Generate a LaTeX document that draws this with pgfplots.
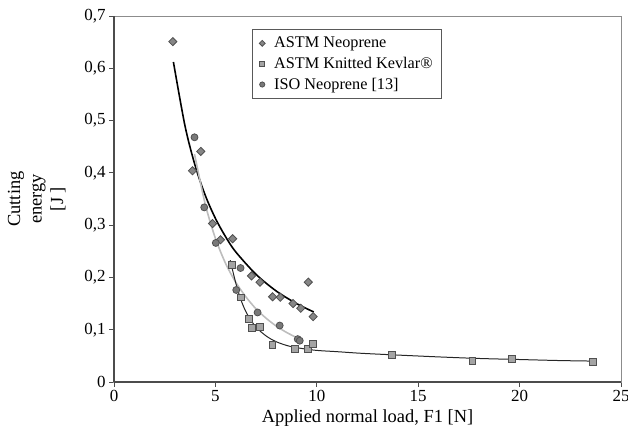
\documentclass[border=0pt]{standalone}
\usepackage{fontspec}
\setmainfont{Liberation Serif}
\usepackage{pgfplots}
\pgfplotsset{compat=1.18}
\definecolor{mkfill}{HTML}{868686}
\definecolor{mkdraw}{HTML}{505050}
\definecolor{isoline}{HTML}{BDBDBD}
\newcommand{\tickfont}{\fontsize{17}{19}\selectfont}
\newcommand{\labfont}{\fontsize{18.5}{19.5}\selectfont}
\newcommand{\ylabfont}{\fontsize{18.5}{21.5}\selectfont}
\newcommand{\legfont}{\fontsize{16.3}{18}\selectfont}

\begin{document}
\begin{tikzpicture}
\begin{axis}[
  name=ax, at={(0,0)}, anchor=south west,
  scale only axis, width=507bp, height=366bp,
  xmin=0, xmax=25, ymin=0, ymax=0.7,
  xtick={0,5,...,25}, ytick={0,0.1,...,0.7},
  /pgf/number format/use comma,
  /pgf/number format/assume math mode=true,
  tick label style={font=\tickfont},
  xtick pos=bottom, ytick pos=left, tick align=outside,
  major tick length=5pt,
  tick style={black!70, line width=0.8pt},
  axis line style={draw=black!45, line width=1pt},
  xlabel={Applied normal load, F1 [N]},
  ylabel={Cutting\\energy\\{}[J ]},
  xlabel style={font=\labfont, yshift=-1pt},
  ylabel style={font=\ylabfont, align=center, yshift=12pt},
  legend style={at={(0.272,0.965)}, anchor=north west, draw=black!65,
    line width=0.8pt, font=\legfont, inner xsep=7pt, inner ysep=6pt,
    row sep=4pt, /tikz/every odd column/.append style={column sep=7pt}},
  legend cell align=left,
  clip=false,
]
% ASTM Neoprene trend
\addplot[black, line width=1.6pt, smooth, forget plot] coordinates {(2.93,0.612) (3.5,0.490) (4,0.414) (4.5,0.357) (5,0.313) (5.5,0.278) (6,0.249) (7,0.206) (8,0.174) (9,0.150) (9.85,0.134)};
% ISO Neoprene trend
\addplot[isoline, line width=1.6pt, smooth, forget plot] coordinates {(3.97,0.436) (4.5,0.340) (5,0.275) (5.5,0.227) (6,0.191) (6.5,0.163) (7,0.140) (7.5,0.122) (8,0.107) (8.5,0.095) (9.15,0.082)};
% Kevlar trend
\addplot[black!85, line width=1pt, smooth, forget plot] coordinates {(5.73,0.233) (6.0,0.190) (6.25,0.158) (6.55,0.131) (7.0,0.105) (7.54,0.087) (8.0,0.077) (8.7,0.068) (9.85,0.061) (11,0.058) (12.15,0.055) (13.72,0.052) (16,0.048) (18,0.045) (20,0.043) (22,0.041) (23.62,0.040)};

\addplot[only marks, mark=square*, mark size=2.9pt, mark options={fill=mkfill, draw=mkdraw, line width=0.8pt, rotate=45},
  legend image post style={mark size=2.1pt}] coordinates {(2.90,0.651) (4.28,0.441) (3.87,0.404) (4.86,0.303) (5.25,0.272) (5.85,0.274) (6.78,0.203) (7.20,0.191) (9.58,0.191) (7.82,0.163) (8.20,0.162) (8.83,0.150) (9.21,0.141) (9.82,0.125)};
\addlegendentry{ASTM Neoprene}
\addplot[only marks, mark=square*, mark size=3.4pt, mark options={fill=mkfill!75!white, draw=mkdraw, line width=0.8pt},
  legend image post style={mark size=2.4pt}] coordinates {(5.81,0.224) (6.24,0.162) (6.64,0.121) (6.80,0.104) (7.21,0.105) (7.81,0.071) (8.91,0.064) (9.57,0.064) (9.80,0.073) (13.72,0.052) (17.67,0.040) (19.61,0.044) (23.62,0.039)};
\addlegendentry{ASTM Knitted Kevlar®}
\addplot[only marks, mark=*, mark size=3.5pt, mark options={fill=mkfill!90!black, draw=mkdraw, line width=0.8pt},
  legend image post style={mark size=2.6pt}] coordinates {(3.97,0.468) (4.45,0.334) (5.02,0.266) (6.24,0.218) (6.03,0.176) (7.08,0.133) (8.17,0.108) (9.06,0.082) (9.16,0.079)};
\addlegendentry{ISO Neoprene [13]}

\draw[black!70, line width=1.2pt] (rel axis cs:0,0) -- (rel axis cs:0,1);
\draw[black!70, line width=1.2pt] (rel axis cs:0,0) -- (rel axis cs:1,0);
\end{axis}
\pgfresetboundingbox
\path[use as bounding box] ([xshift=-114bp, yshift=-57bp]ax.south west) rectangle ([xshift=7bp, yshift=16bp]ax.north east);
\end{tikzpicture}
\end{document}
